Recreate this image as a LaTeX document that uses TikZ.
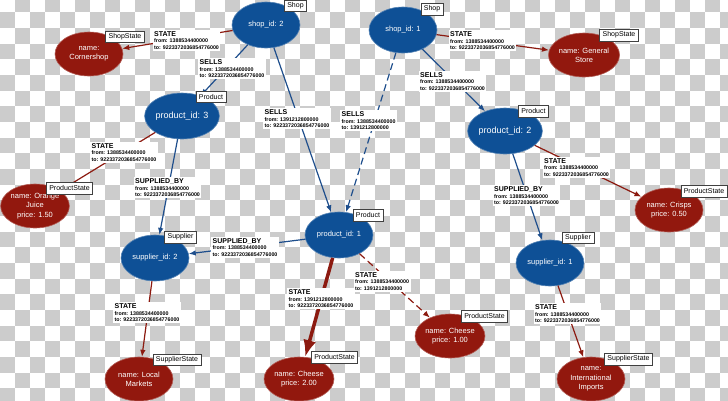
\documentclass[tikz,border=0pt]{standalone}
\usepackage{fontspec}
\setmainfont{Liberation Sans}
\usetikzlibrary{shapes.geometric,arrows.meta}
\definecolor{nodeblue}{RGB}{14,80,150}
\definecolor{nodered}{RGB}{146,24,14}
\definecolor{lineblue}{RGB}{30,78,140}
\definecolor{linered}{RGB}{140,26,16}
\definecolor{checkgrey}{RGB}{204,204,204}
\newcommand{\relstate}[3]{{\fontsize{7}{7}\selectfont #1}\\from: #2\\to: #3}

\begin{document}
\begin{tikzpicture}[x=1pt,y=-1pt,
  idnode/.style={ellipse,fill=nodeblue,draw=nodeblue!70!white,line width=0.6pt,text=white,minimum width=68pt,minimum height=46pt,inner sep=0pt,font=\fontsize{7.5}{9.3}\selectfont,align=center},
  bignode/.style={idnode,font=\fontsize{9}{10}\selectfont},
  statenode/.style={idnode,fill=nodered,draw=nodered!70!white,minimum height=44pt},
  typebox/.style={draw=black!75,fill=white,line width=0.5pt,inner xsep=3pt,inner ysep=0pt,minimum height=11.5pt,font=\fontsize{7}{8}\selectfont},
  rel/.style={fill=white,inner xsep=1.5pt,inner ysep=1.5pt,anchor=north west,align=left,font=\fontsize{5.3}{6.6}\selectfont\bfseries},
  relline/.style={color=lineblue,line width=1.2pt,-{Latex[length=7pt,width=5.5pt]}},
  stateline/.style={color=linered,line width=1.2pt,-{Latex[length=7pt,width=5.5pt]}},
  gone/.style={dash pattern=on 7pt off 4pt}]
  \useasboundingbox (0,0) rectangle (728,400);
  \begin{scope}
    \clip (0,0) rectangle (728,400);
    \foreach \j in {0,...,25}
      \foreach \i in {0,...,48}{
        \pgfmathtruncatemacro\odd{mod(\i+\j,2)}
        \ifnum\odd=1 \fill[checkgrey] (\i*15,\j*15.67-3.37) rectangle ++(15,15.67); \fi
      }
  \end{scope}

  \node[idnode] (shoptwo) at (266,25) {shop\_id: 2};
  \node[idnode] (shopone) at (403,30) {shop\_id: 1};
  \node[bignode] (prodthree) at (182,116) {product\_id: 3};
  \node[bignode] (prodtwo) at (505,131) {product\_id: 2};
  \node[idnode] (prodone) at (339,235) {product\_id: 1};
  \node[idnode] (suptwo) at (155,258) {supplier\_id: 2};
  \node[idnode] (supone) at (550,263) {supplier\_id: 1};
  \node[statenode] (corner) at (89,54) {name:\\Cornershop};
  \node[statenode] (general) at (584,55) {name: General\\Store};
  \node[statenode] (juice) at (35,206) {name: Orange\\Juice\\price: 1.50};
  \node[statenode] (crisps) at (669,210) {name: Crisps\\price: 0.50};
  \node[statenode] (local) at (139,379) {name: Local\\Markets};
  \node[statenode] (cheesetwo) at (299,379) {name: Cheese\\price: 2.00};
  \node[statenode] (cheeseone) at (450,336) {name: Cheese\\price: 1.00};
  \node[statenode] (intl) at (591,379) {name:\\International\\Imports};

  \draw[stateline] (shoptwo) -- (corner);
  \draw[relline] (shoptwo) -- (prodthree);
  \draw[relline] (shoptwo) -- (prodone);
  \draw[relline,gone] (shopone) -- (prodone);
  \draw[stateline] (shopone) -- (general);
  \draw[relline] (shopone) -- (prodtwo);
  \draw[stateline] (prodthree) -- (juice);
  \draw[relline] (prodthree) -- (suptwo);
  \draw[relline] (prodone) -- (suptwo);
  \draw[stateline] (prodtwo) -- (crisps);
  \draw[relline] (prodtwo) -- (supone);
  \draw[stateline] (suptwo) -- (local);
  \draw[stateline,line width=3.5pt,-{Latex[length=17pt,width=13pt,color=linered]}] (prodone) -- (cheesetwo);
  \draw[stateline,gone] (prodone) -- (cheeseone);
  \draw[stateline] (supone) -- (intl);

  \node[typebox] (shoptwotype) at (295.5,5.5) {Shop};
  \node[typebox] (shoponetype) at (432,9) {Shop};
  \node[typebox] (cornertype) at (125,36.5) {ShopState};
  \node[typebox] (generaltype) at (619,35) {ShopState};
  \node[typebox] (prodthreetype) at (211,96.5) {Product};
  \node[typebox] (prodtwotype) at (533.5,111) {Product};
  \node[typebox] (prodonetype) at (368,215) {Product};
  \node[typebox] (juicetype) at (69.5,188) {ProductState};
  \node[typebox] (suptwotype) at (180.5,237) {Supplier};
  \node[typebox] (suponetype) at (578,237.5) {Supplier};
  \node[typebox] (crispstype) at (704,191) {ProductState};
  \node[typebox] (localtype) at (177,359.5) {SupplierState};
  \node[typebox] (cheesetwotype) at (334.5,357) {ProductState};
  \node[typebox] (cheeseonetype) at (484.5,316) {ProductState};
  \node[typebox] (intltype) at (628.5,359) {SupplierState};

  \node[rel] (lcorner) at (152.5,29.5) {\relstate{STATE}{1388534400000}{9223372036854776000}};
  \node[rel] (lprodthree) at (198,58) {\relstate{SELLS}{1388534400000}{9223372036854776000}};
  \node[rel] (lprodone) at (263,108) {\relstate{SELLS}{1391212800000}{9223372036854776000}};
  \node[rel] (lgone) at (340,110) {\relstate{SELLS}{1388534400000}{1391212800000}};
  \node[rel] (lgeneral) at (448.5,30) {\relstate{STATE}{1388534400000}{9223372036854776000}};
  \node[rel] (lprodtwo) at (418.5,70.5) {\relstate{SELLS}{1388534400000}{9223372036854776000}};
  \node[rel] (ljuice) at (90,141.5) {\relstate{STATE}{1388534400000}{9223372036854776000}};
  \node[rel] (lsupthree) at (133.5,177) {\relstate{SUPPLIED\_BY}{1388534400000}{9223372036854776000}};
  \node[rel] (lsupone) at (211,236.5) {\relstate{SUPPLIED\_BY}{1388534400000}{9223372036854776000}};
  \node[rel] (lcrisps) at (542.5,156.5) {\relstate{STATE}{1388534400000}{9223372036854776000}};
  \node[rel] (lsuptwo) at (492.5,185) {\relstate{SUPPLIED\_BY}{1388534400000}{9223372036854776000}};
  \node[rel] (llocal) at (113,302) {\relstate{STATE}{1388534400000}{9223372036854776000}};
  \node[rel] (lcheesetwo) at (287,288) {\relstate{STATE}{1391212800000}{9223372036854776000}};
  \node[rel] (lcheeseone) at (353.5,270.5) {\relstate{STATE}{1388534400000}{1391212800000}};
  \node[rel] (lintl) at (533.5,303) {\relstate{STATE}{1388534400000}{9223372036854776000}};
\end{tikzpicture}
\end{document}
